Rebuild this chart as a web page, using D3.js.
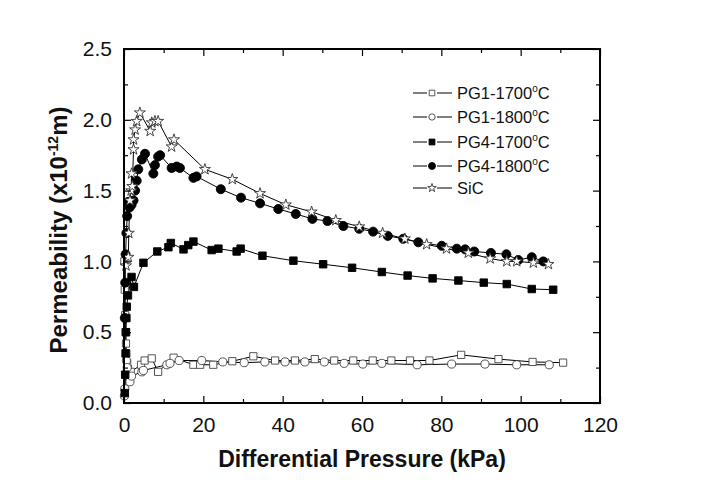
<!DOCTYPE html>
<html><head><meta charset="utf-8">
<script src="https://cdn.jsdelivr.net/npm/d3@7/dist/d3.min.js"></script>
<style>body{margin:0;background:#fff}svg{display:block}text{font-family:"Liberation Sans",Arial,sans-serif}</style>
</head><body><div id="chart"></div>
<script>
// ---- data ----
const pg1_1700_x = [0.1,0.2,0.3,0.4,0.5,0.6,0.8,1.0,1.7,4.3,5.2,7.0,8.6,12.5,17.5,19.2,22.5,27.3,32.6,38.1,43.1,48.1,53.0,57.8,62.7,67.4,72.1,77.0,85.0,94.4,103.0,110.7];
const pg1_1700_y = [1.0,0.8,0.62,0.5,0.42,0.35,0.28,0.24,0.22,0.27,0.30,0.315,0.22,0.32,0.27,0.27,0.27,0.295,0.33,0.30,0.30,0.31,0.30,0.30,0.30,0.30,0.30,0.30,0.34,0.31,0.29,0.285];
const pg1_1800_x = [0.1,0.2,0.4,0.6,0.8,1.5,1.9,4.5,4.9,10.8,11.6,13.9,19.6,24.9,30.3,35.5,40.6,45.6,50.5,55.5,60.2,65.0,73.9,82.6,91.0,99.0,107.2];
const pg1_1800_y = [0.05,0.1,0.2,0.3,0.25,0.15,0.19,0.22,0.23,0.27,0.28,0.30,0.30,0.29,0.285,0.29,0.29,0.29,0.29,0.28,0.275,0.28,0.27,0.275,0.275,0.27,0.27];
const pg4_1700_x = [0.2,0.3,0.4,0.5,0.6,0.7,1.0,1.9,2.5,4.9,8.4,11.2,11.8,15.0,16.2,17.5,22.1,23.8,28.4,29.4,34.9,42.7,50.2,57.5,65.0,71.5,77.8,84.3,90.7,96.5,102.8,108.2];
const pg4_1700_y = [0.07,0.2,0.35,0.5,0.6,0.68,0.76,0.89,0.82,0.99,1.07,1.10,1.13,1.085,1.115,1.14,1.08,1.09,1.07,1.09,1.04,1.005,0.98,0.955,0.925,0.90,0.88,0.865,0.85,0.84,0.805,0.80];
const pg4_1800_x = [0.2,0.3,0.4,0.6,0.8,1.0,1.4,1.9,2.4,2.8,3.2,3.6,4.5,5.3,7.4,7.8,8.6,9.1,12.0,13.3,14.1,17.5,18.3,24.4,29.5,34.3,38.9,43.3,47.5,51.3,55.3,59.3,62.8,66.5,70.4,74.2,80.1,83.9,86.0,88.3,92.5,96.4,99.4,102.8,105.7];
const pg4_1800_y = [0.6,0.85,1.05,1.2,1.32,1.42,1.38,1.40,1.43,1.50,1.57,1.65,1.72,1.76,1.62,1.68,1.74,1.75,1.66,1.67,1.66,1.59,1.60,1.51,1.45,1.41,1.37,1.335,1.30,1.285,1.25,1.23,1.21,1.18,1.16,1.135,1.11,1.09,1.085,1.07,1.06,1.05,1.01,1.03,1.0];
const sic_x = [0.5,1.1,1.2,1.5,1.8,1.9,2.1,2.4,2.4,2.8,3.2,4.0,6.6,7.0,7.8,8.6,12.0,12.6,20.4,27.3,34.3,40.8,47.3,53.4,59.3,65.2,70.8,76.3,81.3,86.8,92.3,96.5,99.0,103.2,107.0];
const sic_y = [0.97,1.03,1.2,1.43,1.50,1.62,1.53,1.79,1.86,1.93,1.99,2.05,1.92,1.98,1.99,1.99,1.81,1.86,1.65,1.58,1.48,1.40,1.35,1.29,1.245,1.20,1.16,1.12,1.09,1.06,1.02,1.00,1.00,0.99,0.98];

const seriesNames = ["PG1-1700", "PG1-1800", "PG4-1700", "PG4-1800", "SiC"];
const xTicks = [0,20,40,60,80,100,120];
const yTicks = [0.0,0.5,1.0,1.5,2.0,2.5];

// ---- layout ----
const W = 703, H = 489;
const m = {l:124, r:600, t:49, b:403};
const svg = d3.select("#chart").append("svg").attr("width", W).attr("height", H);
svg.append("rect").attr("width", W).attr("height", H).attr("fill", "#fff");

const x = d3.scaleLinear().domain([0,120]).range([m.l, m.r]);
const y = d3.scaleLinear().domain([0,2.5]).range([m.b, m.t]);

const series = [
  {name: seriesNames[0], xs: pg1_1700_x, ys: pg1_1700_y, sym: d3.symbolSquare, size: 52, fill: "#fff", stroke: "#444"},
  {name: seriesNames[1], xs: pg1_1800_x, ys: pg1_1800_y, sym: d3.symbolCircle, size: 52, fill: "#fff", stroke: "#444"},
  {name: seriesNames[2], xs: pg4_1700_x, ys: pg4_1700_y, sym: d3.symbolSquare, size: 56, fill: "#000", stroke: "#000"},
  {name: seriesNames[3], xs: pg4_1800_x, ys: pg4_1800_y, sym: d3.symbolCircle, size: 64, fill: "#000", stroke: "#000"},
  {name: seriesNames[4], xs: sic_x, ys: sic_y, sym: d3.symbolStar, size: 38, fill: "#fff", stroke: "#333"}
];

const line = d3.line().x(d => x(d[0])).y(d => y(d[1]));
const plot = svg.append("g");
series.forEach(s => {
  const pts = s.xs.map((v,i) => [v, s.ys[i]]);
  plot.append("path").attr("d", line(pts)).attr("fill","none").attr("stroke","#000").attr("stroke-width",1);
});
series.forEach(s => {
  const pts = s.xs.map((v,i) => [v, s.ys[i]]);
  plot.selectAll(null).data(pts).enter().append("path")
    .attr("transform", d => `translate(${x(d[0])},${y(d[1])})`)
    .attr("d", d3.symbol().type(s.sym).size(s.size))
    .attr("fill", s.fill).attr("stroke", s.stroke).attr("stroke-width", 0.9);
});

// ---- axes (ticks inside, mirrored) ----
const axFont = 21;
function styleAxis(g){ g.select(".domain").remove(); g.selectAll("line").attr("stroke","#000").attr("stroke-width",1.2); }
const xMinor = d3.range(10,120,20);
const yMinor = d3.range(0.25,2.5,0.5);

const gxB = svg.append("g").attr("transform",`translate(0,${m.b})`)
  .call(d3.axisBottom(x).tickValues(xTicks).tickSize(-7).tickPadding(14).tickFormat(d3.format("d")));
styleAxis(gxB);
gxB.selectAll("text").attr("font-size",axFont).attr("fill","#111");
svg.append("g").attr("transform",`translate(0,${m.b})`)
  .call(d3.axisBottom(x).tickValues(xMinor).tickSize(-4).tickFormat("")).call(styleAxis);
svg.append("g").attr("transform",`translate(0,${m.t})`)
  .call(d3.axisTop(x).tickValues(xTicks).tickSize(-7).tickFormat("")).call(styleAxis);
svg.append("g").attr("transform",`translate(0,${m.t})`)
  .call(d3.axisTop(x).tickValues(xMinor).tickSize(-4).tickFormat("")).call(styleAxis);

const gyL = svg.append("g").attr("transform",`translate(${m.l},0)`)
  .call(d3.axisLeft(y).tickValues(yTicks).tickSize(-7).tickPadding(12).tickFormat(d3.format(".1f")));
styleAxis(gyL);
gyL.selectAll("text").attr("font-size",axFont).attr("fill","#111");
svg.append("g").attr("transform",`translate(${m.l},0)`)
  .call(d3.axisLeft(y).tickValues(yMinor).tickSize(-4).tickFormat("")).call(styleAxis);
svg.append("g").attr("transform",`translate(${m.r},0)`)
  .call(d3.axisRight(y).tickValues(yTicks).tickSize(-7).tickFormat("")).call(styleAxis);
svg.append("g").attr("transform",`translate(${m.r},0)`)
  .call(d3.axisRight(y).tickValues(yMinor).tickSize(-4).tickFormat("")).call(styleAxis);

svg.append("rect").attr("x",m.l).attr("y",m.t).attr("width",m.r-m.l).attr("height",m.b-m.t)
  .attr("fill","none").attr("stroke","#000").attr("stroke-width",2);

// ---- axis titles ----
svg.append("text").attr("x",(m.l+m.r)/2).attr("y",467).attr("text-anchor","middle")
  .attr("font-size",23).attr("font-weight","bold").attr("fill","#111").text("Differential Pressure (kPa)");
const yt = svg.append("text").attr("transform",`translate(67,${(m.t+m.b)/2 + 4}) rotate(-90)`)
  .attr("text-anchor","middle").attr("font-size",24).attr("font-weight","bold").attr("fill","#111");
yt.append("tspan").text("Permeability (x10");
yt.append("tspan").attr("dy",-9).attr("font-size",14).text("-12");
yt.append("tspan").attr("dy",9).text("m)");

// ---- legend ----
const legY = [93,117,142,166,188];
const leg = svg.append("g");
series.forEach((s,i) => {
  const g = leg.append("g").attr("transform",`translate(0,${legY[i]})`);
  g.append("line").attr("x1",413).attr("x2",452).attr("y1",0).attr("y2",0).attr("stroke","#000").attr("stroke-width",1);
  g.append("rect").attr("x",427).attr("y",-5).attr("width",10).attr("height",10).attr("fill","#fff");
  g.append("path").attr("transform","translate(432,0)").attr("d", d3.symbol().type(s.sym).size(s.size*0.6))
    .attr("fill", s.fill).attr("stroke", s.stroke).attr("stroke-width",0.9);
  const t = g.append("text").attr("x",457).attr("y",6).attr("font-size",16.5).attr("fill","#111");
  if (s.name === "SiC") { t.text(s.name); }
  else {
    t.append("tspan").text(s.name);
    t.append("tspan").attr("dy",-7).attr("font-size",10).text("o");
    t.append("tspan").attr("dy",7).text("C");
  }
});
</script></body></html>
